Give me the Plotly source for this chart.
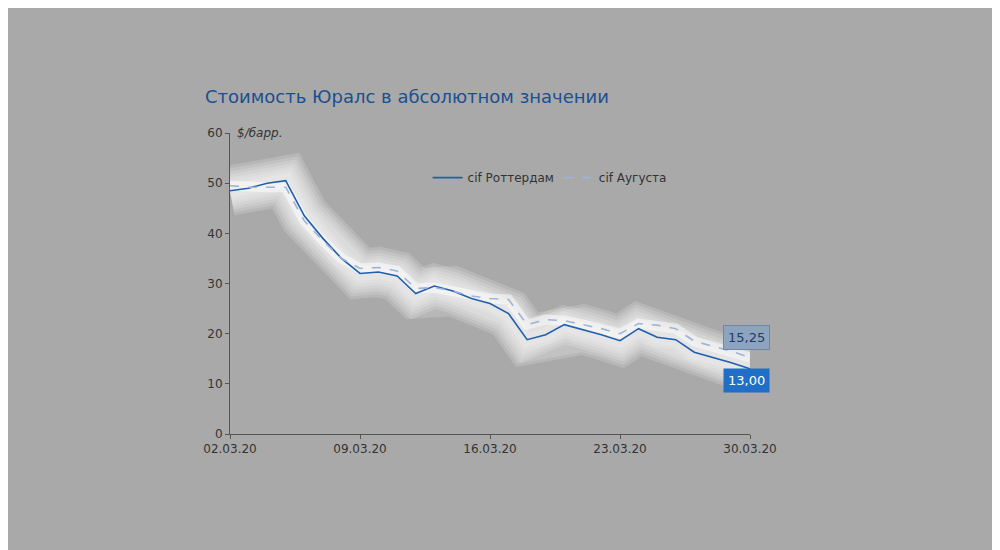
import pandas as pd
import plotly.graph_objects as go

# daily dates, 02.03.20 .. 30.03.20
dates = pd.date_range("2020-03-02", "2020-03-30", freq="D")

rotterdam = [48.5, 49.0, 50.0, 50.5, 43.5, 39.0, 35.0, 32.0, 32.3, 31.5, 28.0, 29.5, 28.5,
             27.0, 26.0, 24.0, 18.8, 19.8, 21.8, 20.8, 19.8, 18.6, 21.0, 19.3, 18.8, 16.3,
             15.3, 14.2, 13.0]
augusta = [49.5, 49.2, 49.2, 49.2, 42.5, 38.5, 35.0, 33.0, 33.2, 32.5, 29.0, 29.2, 28.5,
           27.5, 27.0, 26.8, 21.8, 22.8, 22.6, 21.8, 21.0, 20.0, 22.0, 21.7, 21.0, 18.5,
           17.5, 16.5, 15.25]

tick_vals = ["2020-03-02", "2020-03-09", "2020-03-16", "2020-03-23", "2020-03-30"]
tick_text = ["02.03.20", "09.03.20", "16.03.20", "23.03.20", "30.03.20"]

fig = go.Figure()

# soft white glow behind the lines (many thin-opacity layers)
for w in [50, 44, 38, 32, 26, 20, 14]:
    fig.add_trace(go.Scatter(x=dates, y=rotterdam, mode="lines", showlegend=False,
                             hoverinfo="skip", opacity=0.16,
                             line=dict(color="white", width=w)))
fig.add_trace(go.Scatter(x=dates, y=augusta, mode="lines", showlegend=False,
                         hoverinfo="skip", opacity=0.5, line=dict(color="white", width=10)))

fig.add_trace(go.Scatter(x=dates, y=rotterdam, mode="lines", name="cif Роттердам",
                         line=dict(color="#1f5fad", width=1.6)))
fig.add_trace(go.Scatter(x=dates, y=augusta, mode="lines", name="cif Аугуста",
                         line=dict(color="#9fb4d6", width=1.6, dash="dash")))

fig.add_annotation(x=dates[-1], y=augusta[-1], text="15,25", showarrow=False,
                   xanchor="right", yshift=20, xshift=20, bgcolor="#8ea3bd",
                   bordercolor="#6f87a6", font=dict(color="#1b3d66", size=13),
                   borderpad=4)
fig.add_annotation(x=dates[-1], y=rotterdam[-1], text="13,00", showarrow=False,
                   xanchor="right", yshift=-12, xshift=20, bgcolor="#1f6fc6",
                   font=dict(color="white", size=13), borderpad=4)
fig.add_annotation(x=0.01, y=1.0, xref="paper", yref="paper", text="<i>$/барр.</i>",
                   showarrow=False, xanchor="left", yanchor="middle",
                   font=dict(color="#333333", size=12))

fig.update_layout(
    width=1000, height=550,
    paper_bgcolor="#a9a9a9", plot_bgcolor="rgba(0,0,0,0)",
    margin=dict(l=222, r=258, t=125, b=124),
    font=dict(family="DejaVu Sans", color="#333333", size=12),
    title=dict(text="Стоимость Юралс в абсолютном значении", x=0.197, y=0.85,
               xanchor="left", font=dict(color="#1c4f8f", size=18)),
    legend=dict(orientation="h", x=0.38, y=0.9, bgcolor="rgba(0,0,0,0)",
                font=dict(size=12, color="#333333")),
    showlegend=True,
)
fig.update_xaxes(range=["2020-03-02", "2020-03-30"], tickvals=tick_vals, ticktext=tick_text,
                 showgrid=False, showline=True, linecolor="#555555", ticks="outside",
                 tickcolor="#555555", ticklen=4, zeroline=False)
fig.update_yaxes(range=[0, 60], dtick=10, showgrid=False, showline=True,
                 linecolor="#555555", ticks="outside", tickcolor="#555555", ticklen=4,
                 zeroline=False)

fig.write_html("out.html")
